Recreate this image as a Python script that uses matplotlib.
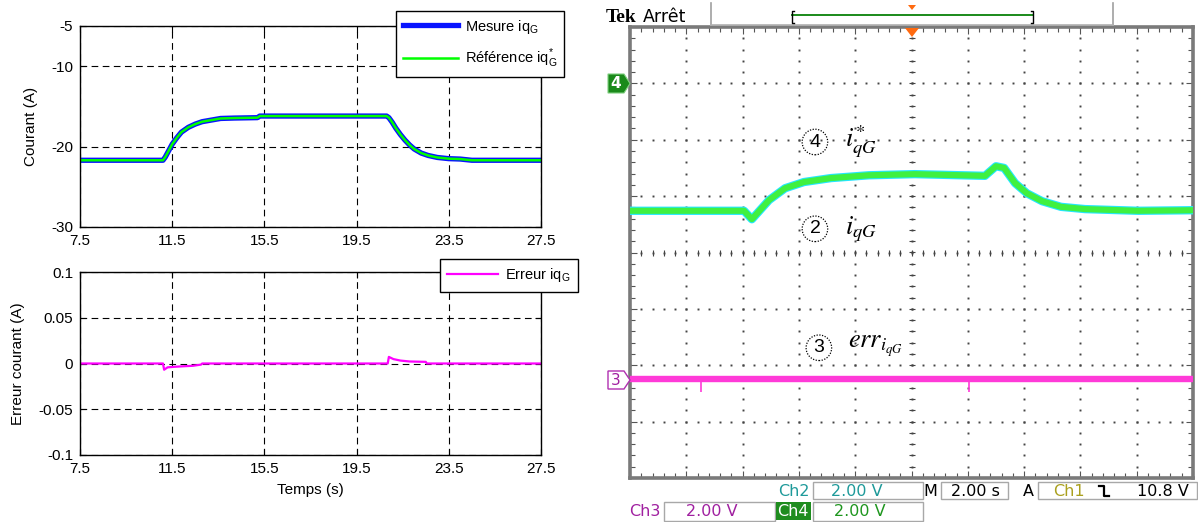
import numpy as np
import matplotlib
matplotlib.use("Agg")
import matplotlib.pyplot as plt
from matplotlib.patches import Rectangle, Polygon
from matplotlib.ticker import MultipleLocator, NullFormatter

W, H = 1198, 522
DPI = 100

# ---------------- data : simulation (left) ----------------
sim_time = [7.5, 11.1, 11.2, 11.35, 11.5, 11.7, 11.9, 12.2, 12.5, 12.8, 13.2, 13.6, 14.2, 15.2, 15.3,
            20.8, 20.9, 21.05, 21.2, 21.4, 21.6, 21.8, 22.0, 22.3, 22.6, 23.0, 23.5, 24.0, 24.5, 27.5]
iq_mes = [-21.7, -21.7, -21.3, -20.5, -19.7, -18.9, -18.2, -17.6, -17.2, -16.9, -16.7, -16.5, -16.45, -16.4, -16.2,
          -16.2, -16.4, -17.0, -17.7, -18.5, -19.2, -19.8, -20.3, -20.8, -21.1, -21.35, -21.5, -21.55, -21.7, -21.7]
iq_ref = [-21.7, -21.7, -21.3, -20.5, -19.7, -18.9, -18.2, -17.6, -17.2, -16.9, -16.7, -16.5, -16.45, -16.4, -16.2,
          -16.2, -16.4, -17.0, -17.7, -18.5, -19.2, -19.8, -20.3, -20.8, -21.1, -21.35, -21.5, -21.55, -21.7, -21.7]
err_time = [7.5, 11.1, 11.15, 11.3, 11.6, 12.0, 12.4, 12.75, 12.8,
            20.85, 20.9, 21.1, 21.4, 21.8, 22.5, 22.55, 27.5]
err_iq = [0, 0, -0.0068, -0.0042, -0.0036, -0.003, -0.0025, -0.0012, 0,
          0, 0.0072, 0.0048, 0.0032, 0.0022, 0.0018, 0, 0]
top_yticks = [-5, -10, -20, -30]
bot_yticks = [0.1, 0.05, 0, -0.05, -0.1]
sim_xticks = [7.5, 11.5, 15.5, 19.5, 23.5, 27.5]

# ---------------- data : oscilloscope (right), time in s, values in divisions ----------------
scope_time = [-10, -5.95, -5.67, -5.06, -4.49, -3.82, -2.86, -1.51, 0.12, 2.61, 3.0, 3.29,
              3.68, 4.1, 4.64, 5.31, 6.16, 8.05, 10]
ch4_div = [0.74, 0.74, 0.59, 0.93, 1.14, 1.25, 1.32, 1.37, 1.39, 1.36, 1.53, 1.50,
           1.23, 1.05, 0.91, 0.81, 0.77, 0.74, 0.75]
ch2_div = [0.74, 0.74, 0.59, 0.93, 1.14, 1.25, 1.32, 1.37, 1.39, 1.36, 1.53, 1.50,
           1.23, 1.05, 0.91, 0.81, 0.77, 0.74, 0.75]
ch3_time = [-10, 10]
ch3_div = [-2.24, -2.24]
ch3_spike_time = [-7.48, 2.04]
ch3_spike_div = [-2.47, -2.47]

plt.rcParams['font.family'] = ['Liberation Sans', 'DejaVu Sans']

fig = plt.figure(figsize=(W / DPI, H / DPI), dpi=DPI)


def px_axes(l, t, r, b, **kw):
    return fig.add_axes([l / W, 1 - b / H, (r - l) / W, (b - t) / H], **kw)


def style_sim(ax):
    ax.set_xlim(7.5, 27.5)
    ax.set_xticks(sim_xticks)
    ax.set_xticklabels([f"{v:g}" for v in sim_xticks])
    ax.grid(True, color='black', linestyle=(0, (6, 4)), linewidth=0.8)
    ax.set_axisbelow(True)
    ax.tick_params(direction='in', length=4, width=0.8, labelsize=11, top=True, right=True, pad=5)
    for s in ax.spines.values():
        s.set_linewidth(1.0)


# ---------------- top left ----------------
ax1 = px_axes(80, 26, 541, 227)
ax1.plot(sim_time, iq_mes, color='#0814ff', lw=3.8, label=r'Mesure iq$_\mathregular{G}$')
ax1.plot(sim_time, iq_ref, color='#00ff00', lw=1.8, label=r'Référence iq$^\mathregular{*}_\mathregular{G}$')
ax1.set_ylim(-30, -5)
ax1.set_yticks(top_yticks)
ax1.set_yticklabels([f"{v:g}" for v in top_yticks])
style_sim(ax1)
ax1.set_ylabel('Courant (A)', fontsize=11)
ax1.yaxis.set_label_coords(-0.092, 0.5)
ax1.legend(loc='upper left', bbox_to_anchor=(396 / W, 1 - 11 / H), bbox_transform=fig.transFigure,
           borderaxespad=0, fancybox=False, edgecolor='black', framealpha=1, fontsize=10.5,
           handlelength=3.8, handletextpad=0.5, borderpad=0.45, labelspacing=0.75)
ax1.get_legend().get_frame().set_linewidth(1.0)

# ---------------- bottom left ----------------
ax2 = px_axes(80, 272, 541, 455)
ax2.plot(err_time, err_iq, color='#ff00ff', lw=1.6, label=r'Erreur iq$_\mathregular{G}$')
ax2.set_ylim(-0.1, 0.1)
ax2.set_yticks(bot_yticks)
ax2.set_yticklabels([f"{v:g}" for v in bot_yticks])
style_sim(ax2)
ax2.set_ylabel('Erreur courant (A)', fontsize=11)
ax2.yaxis.set_label_coords(-0.12, 0.5)
ax2.set_xlabel('Temps (s)', fontsize=11)
ax2.xaxis.set_label_coords(0.5, -0.155)
ax2.legend(loc='upper left', bbox_to_anchor=(440 / W, 1 - 259 / H), bbox_transform=fig.transFigure,
           borderaxespad=0, fancybox=False, edgecolor='black', framealpha=1, fontsize=10.5,
           handlelength=3.5, handletextpad=0.45, borderpad=0.5)
ax2.get_legend().get_frame().set_linewidth(1.0)

# ---------------- oscilloscope ----------------
axs = px_axes(630, 27, 1193, 478)
axs.set_xlim(-10, 10)
axs.set_ylim(-4, 4)
axs.xaxis.set_major_locator(MultipleLocator(2))
axs.xaxis.set_minor_locator(MultipleLocator(0.4))
axs.yaxis.set_major_locator(MultipleLocator(1))
axs.yaxis.set_minor_locator(MultipleLocator(0.2))
axs.xaxis.set_major_formatter(NullFormatter())
axs.yaxis.set_major_formatter(NullFormatter())
axs.tick_params(which='both', direction='in', top=True, right=True, color='#555555', width=0.8)
axs.tick_params(which='major', length=5)
axs.tick_params(which='minor', length=3.5)
for s in axs.spines.values():
    s.set_color('#7a7a7a')
    s.set_linewidth(2.6)

dot_y = np.arange(-4, 4.001, 0.2)
dot_x = np.arange(-10, 10.001, 0.4)
for xv in np.arange(-8, 9, 2):
    if xv == 0:
        continue
    axs.plot(np.full(dot_y.size, xv), dot_y, ls='none', marker='s', ms=1.4, mew=0, color='#444444')
for yv in np.arange(-3, 4, 1):
    if yv == 0:
        continue
    axs.plot(dot_x, np.full(dot_x.size, yv), ls='none', marker='s', ms=1.4, mew=0, color='#444444')
# centre cross with graduations
axs.plot(np.zeros(dot_y.size), dot_y, ls='none', marker='_', ms=4, mew=0.8, color='#444444')
axs.plot(dot_x, np.zeros(dot_x.size), ls='none', marker='|', ms=4, mew=0.8, color='#444444')
axs.plot(np.zeros(dot_y.size), dot_y, ls='none', marker='s', ms=1.4, mew=0, color='#444444')
axs.plot(dot_x, np.zeros(dot_x.size), ls='none', marker='s', ms=1.4, mew=0, color='#444444')

axs.plot(scope_time, ch2_div, color='#25e6ff', lw=6.0, solid_joinstyle='round', zorder=3)
axs.plot(scope_time, ch4_div, color='#40f040', lw=4.4, solid_joinstyle='round', zorder=4)
axs.plot(ch3_time, ch3_div, color='#ff3ad8', lw=4.6, zorder=3)
axs.vlines(ch3_spike_time, ch3_div[0], ch3_spike_div, color='#ff3ad8', lw=1.2, zorder=3)

circ = dict(boxstyle='circle,pad=0.22', fc='none', ec='black', ls=(0, (1, 1.2)), lw=0.9)
for (tx, ty, num) in [(-3.43, 1.96, '4'), (-3.43, 0.42, '2'), (-3.29, -1.69, '3')]:
    axs.text(tx, ty, num, ha='center', va='center', fontsize=14, bbox=circ, zorder=5)
axs.text(-2.35, 1.96, r'$i^{*}_{qG}$', math_fontfamily='stix', fontsize=19, ha='left', va='center', zorder=5)
axs.text(-2.35, 0.42, r'$i_{qG}$', math_fontfamily='stix', fontsize=19, ha='left', va='center', zorder=5)
axs.text(-2.25, -1.66, r'$err_{i_{qG}}$', math_fontfamily='stix', fontsize=19, ha='left', va='center', zorder=5)

# ---------------- oscilloscope screen decorations (pixel overlay) ----------------
ov = fig.add_axes([0, 0, 1, 1], zorder=10)
ov.set_xlim(0, W)
ov.set_ylim(H, 0)
ov.axis('off')
ov.patch.set_visible(False)

ov.text(606, 22, 'Tek', fontsize=14, fontweight='bold', family='Liberation Serif', va='baseline', ha='left')
ov.text(643, 22, 'Arrêt', fontsize=12.5, family='DejaVu Sans', va='baseline', ha='left')
ov.plot([711, 711], [3, 25], color='#a0a0a0', lw=1.2)
ov.plot([1113, 1113], [3, 25], color='#a0a0a0', lw=1.2)
ov.plot([711, 1113], [25, 25], color='#b0b0b0', lw=1.2)
ov.plot([792, 1033], [15, 15], color='#1a8a1a', lw=1.4)
ov.plot([794, 792, 792, 794], [11, 11, 23, 23], color='black', lw=1.0)
ov.plot([1031, 1033, 1033, 1031], [11, 11, 23, 23], color='black', lw=1.0)
ov.add_patch(Polygon([[908, 5], [916, 5], [912, 10]], closed=True, fc='#ff6a10', ec='none'))
ov.add_patch(Polygon([[905, 28], [919, 28], [912, 37]], closed=True, fc='#ff6a10', ec='none'))

# channel ground markers
ov.add_patch(Polygon([[608, 74], [624, 74], [630, 83.5], [624, 93], [608, 93]], closed=True,
                     fc='#1a8a1a', ec='#7fcf7f', lw=0.8))
ov.text(616, 84, '4', color='white', fontsize=11, fontweight='bold', family='DejaVu Sans', ha='center', va='center')
ov.add_patch(Polygon([[608, 371], [624, 371], [630, 380], [624, 389], [608, 389]], closed=True,
                     fc='white', ec='#b030b0', lw=1.0))
ov.text(616, 380.5, '3', color='#a020a0', fontsize=11, family='DejaVu Sans', ha='center', va='center')

# readout boxes
box_kw = dict(fc='white', ec='#a8a8a8', lw=1.0)
for (l, t, r, b) in [(813, 482, 923, 499), (941, 482, 1008, 499), (1038, 482, 1197, 499),
                     (664, 502, 775, 521), (813, 502, 923, 521)]:
    ov.add_patch(Rectangle((l, t), r - l, b - t, **box_kw))
ov.add_patch(Rectangle((776, 502), 35, 18, fc='#1e8c1e', ec='none'))

rd = dict(fontsize=11.5, family='DejaVu Sans', va='center', ha='center')
ov.text(794, 491, 'Ch2', color='#1e9a9a', **rd)
ov.text(857, 491, '2.00 V', color='#1e9a9a', **rd)
ov.text(930, 491, 'M', color='black', **rd)
ov.text(975, 491, '2.00 s', color='black', **rd)
ov.text(1028, 491, 'A', color='black', **rd)
ov.text(1069, 491, 'Ch1', color='#aaa01e', **rd)
ov.plot([1099, 1104, 1104, 1109], [485.5, 485.5, 496, 496], color='black', lw=1.6)
ov.text(1189, 491, '10.8 V', color='black', fontsize=11.5, family='DejaVu Sans', va='center', ha='right')
ov.text(645, 512, 'Ch3', color='#a020a0', **rd)
ov.text(712, 512, '2.00 V', color='#a020a0', **rd)
ov.text(793, 512, 'Ch4', color='white', **rd)
ov.text(860, 512, '2.00 V', color='#1e961e', **rd)

fig.savefig('out.png', dpi=DPI)
